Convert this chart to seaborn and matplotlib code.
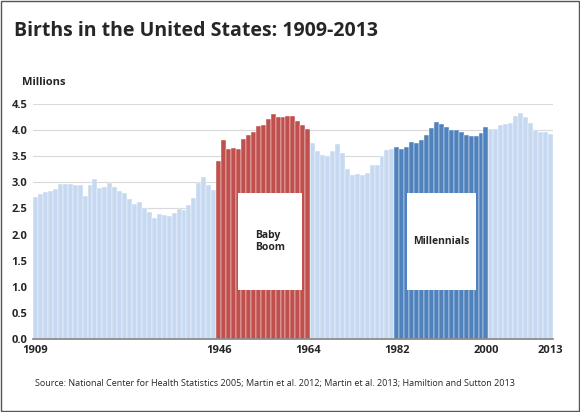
import matplotlib
matplotlib.use("Agg")
import matplotlib.pyplot as plt
import seaborn as sns
import pandas as pd
from matplotlib.patches import Rectangle

years = list(range(1909, 2014))
births = [2.718,2.777,2.809,2.840,2.869,2.966,2.965,2.964,2.944,2.948,2.740,2.950,3.055,2.882,2.910,2.979,2.909,2.839,2.802,2.674,2.582,2.618,2.506,2.440,2.307,2.396,2.377,2.355,2.413,2.496,2.466,2.559,2.703,2.989,3.104,2.939,2.858,
          3.411,3.817,3.637,3.649,3.632,3.823,3.913,3.965,4.078,4.097,4.218,4.300,4.255,4.245,4.258,4.268,4.167,4.098,4.027,
          3.760,3.606,3.521,3.502,3.600,3.731,3.556,3.258,3.137,3.160,3.144,3.168,3.327,3.333,3.494,3.612,3.629,
          3.681,3.639,3.669,3.761,3.757,3.809,3.910,4.041,4.158,4.111,4.065,4.000,4.000,3.953,3.900,3.891,3.881,3.942,4.059,
          4.026,4.022,4.090,4.112,4.138,4.266,4.316,4.248,4.131,3.999,3.954,3.953,3.932]
births = births[:105]
tick_years = [1909, 1946, 1964, 1982, 2000, 2013]

def era(y):
    if 1946 <= y <= 1964: return "boom"
    if 1982 <= y <= 2000: return "mill"
    return "other"

df = pd.DataFrame({"year": years, "births": births, "era": [era(y) for y in years]})
palette = {"other": "#c6d9f1", "boom": "#c0504d", "mill": "#4f81bd"}

sns.set_theme(style="white")
plt.rcParams['font.family'] = ['Open Sans', 'DejaVu Sans']
fig = plt.figure(figsize=(5.8, 4.12), dpi=100)
ax = fig.add_axes([0.057, 0.177, 0.896, 0.571])
sns.barplot(data=df, x="year", y="births", hue="era", palette=palette, dodge=False, saturation=1,
            width=1.0, edgecolor="white", linewidth=0.3, legend=False, ax=ax, order=years)
ax.set_ylim(0, 4.5)
ax.set_xlim(-0.5, len(years) - 0.5)
ax.set_yticks([i * 0.5 for i in range(10)])
ax.set_yticklabels([f"{i*0.5:.1f}" for i in range(10)], fontsize=8, fontweight="bold")
ax.set_xticks([years.index(y) for y in tick_years])
ax.set_xticklabels([str(y) for y in tick_years], fontsize=8, fontweight="bold")
ax.tick_params(axis="both", length=0, pad=4)
ax.yaxis.grid(True, color="#d9d9d9", linewidth=0.8)
ax.set_axisbelow(True)
for s in ["top", "right", "left"]:
    ax.spines[s].set_visible(False)
ax.spines["bottom"].set_color("#888888")
ax.set_xlabel(""); ax.set_ylabel("")

tr = ax.get_yaxis_transform()
for x0, w, label in [(0.394, 0.123, "Baby\nBoom"), (0.719, 0.133, "Millennials")]:
    r = Rectangle((x0, 0.94), w, 1.86, transform=tr, facecolor="white",
                  edgecolor="none", zorder=5)
    ax.add_patch(r)
    ax.text(x0 + w / 2, 1.87, label, transform=tr, ha="center", va="center",
            fontsize=7.5, fontweight="bold", zorder=6, multialignment="left")

fig.text(0.025, 0.925, "Births in the United States: 1909-2013", fontsize=14, fontweight="bold", va="center")
fig.text(0.038, 0.8, "Millions", fontsize=8, fontweight="bold", va="center")
fig.text(0.06, 0.07, "Source: National Center for Health Statistics 2005; Martin et al. 2012; Martin et al. 2013; Hamiltion and Sutton 2013",
         fontsize=6.5, va="center")
fig.patches.append(Rectangle((0.002, 0.002), 0.996, 0.996, transform=fig.transFigure, fill=False,
                             edgecolor="#555555", linewidth=1))
fig.savefig("out.png", dpi=100)
